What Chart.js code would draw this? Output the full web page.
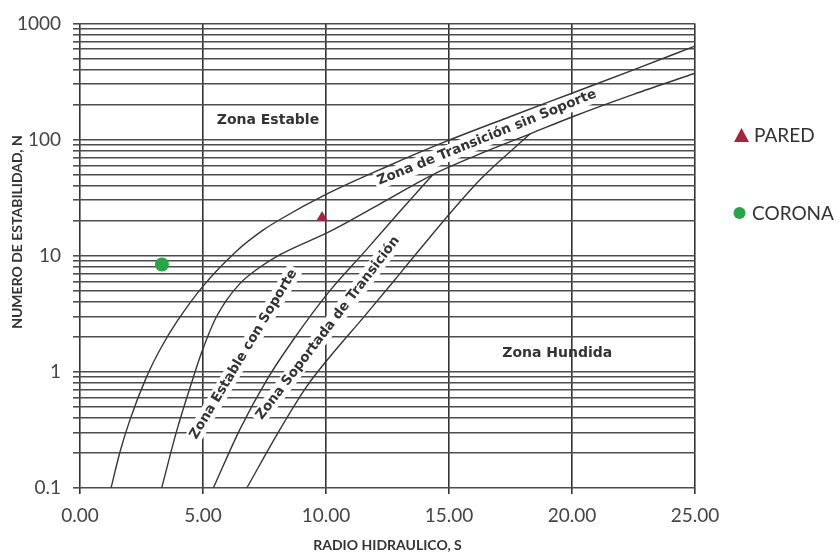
<!DOCTYPE html>
<html lang="es">
<head>
<meta charset="utf-8">
<title>Número de estabilidad vs radio hidráulico</title>
<script src="https://cdn.jsdelivr.net/npm/chart.js@4.4.1/dist/chart.umd.min.js"></script>
<style>
  html, body { margin: 0; padding: 0; background: #fff; }
  #wrap { width: 839px; height: 555px; }
</style>
</head>
<body>
<div id="wrap"><canvas id="chart" width="839" height="555"></canvas></div>
<script>
// Axis ticks
const xTickLabels = ['0.00', '5.00', '10.00', '15.00', '20.00', '25.00'];
const yDecades = [0.1, 1, 10, 100, 1000];

// Zone boundary curves (radio hidráulico S, número de estabilidad N)
const curveAx = [1.26, 1.63, 2.03, 2.71, 3.3, 3.93, 5.01, 6.37, 7.44, 8.13, 10.0, 12.5, 14.9, 17.5, 20.05, 22.5, 25];
const curveAy = [0.1, 0.206, 0.386, 0.91, 1.62, 2.69, 5.5, 11.0, 16.6, 20.5, 33.7, 58.9, 96.8, 158, 253, 398, 638];

const curveBx = [3.32, 3.93, 4.54, 4.95, 5.5, 5.96, 6.5, 7.18, 8.13, 10.16, 12.2, 14.35, 16.5, 18.3, 20.05, 22.5, 25];
const curveBy = [0.1, 0.31, 0.81, 1.48, 2.85, 4.15, 5.75, 7.6, 10.2, 16.2, 28, 50, 79, 112, 158, 245, 372];

const curveCx = [5.42, 6.5, 7.59, 8.67, 10.16, 11.6, 13.0, 14.35];
const curveCy = [0.1, 0.32, 0.85, 1.89, 5.0, 11, 24, 50];

const curveDx = [6.78, 8.13, 9.22, 10.16, 11.5, 12.8, 13.6, 16.26, 18.3];
const curveDy = [0.1, 0.32, 0.75, 1.35, 2.9, 6.2, 10, 45, 112];

// Measured points
const paredS = [9.84];
const paredN = [21.3];
const coronaS = [3.33];
const coronaN = [8.4];

// Zone names written on the chart
const zoneNames = ['Zona Estable', 'Zona Hundida', 'Zona de Transición sin Soporte', 'Zona Estable con Soporte', 'Zona Soportada de Transición'];
const zoneS = [7.64, 19.4, 16.54, 6.65, 10.08];
const zoneN = [146, 1.45, 104, 1.42, 2.38];
const zoneAngle = [0, 0, -22, -59, -52.5];

const legendNames = ['PARED', 'CORONA'];

const toPoints = (xs, ys) => xs.map((x, i) => ({ x, y: ys[i] }));

// Full log grid: 1..9 in every decade
const yGrid = [];
for (let d = 0; d < yDecades.length - 1; d++) {
  for (let m = 1; m <= 9; m++) yGrid.push(+(m * yDecades[d]).toPrecision(6));
}
yGrid.push(yDecades[yDecades.length - 1]);

const curveStyle = {
  showLine: true,
  borderColor: '#363636',
  borderWidth: 1.4,
  pointRadius: 0,
  pointHoverRadius: 0,
  cubicInterpolationMode: 'monotone',
  fill: false
};

const PARED_COLOR = '#a8233d';
const CORONA_COLOR = '#25a745';

const zoneLabels = {
  id: 'zoneLabels',
  beforeDatasetsDraw(chart) {
    const { ctx, scales: { x, y } } = chart;
    zoneNames.forEach((txt, i) => {
      const px = x.getPixelForValue(zoneS[i]);
      const py = y.getPixelForValue(zoneN[i]);
      ctx.save();
      ctx.translate(px, py);
      ctx.rotate(zoneAngle[i] * Math.PI / 180);
      const size = zoneAngle[i] === 0 ? 14 : 13.5;
      ctx.font = 'bold ' + size + 'px "DejaVu Sans"';
      const w = ctx.measureText(txt).width;
      if (zoneAngle[i] !== 0) {
        ctx.fillStyle = '#ffffff';
        ctx.fillRect(-w / 2 - 3, -size * 0.62, w + 6, size * 1.24);
      }
      ctx.fillStyle = '#333333';
      ctx.textAlign = 'center';
      ctx.textBaseline = 'middle';
      ctx.fillText(txt, 0, 0);
      ctx.restore();
    });
  },
  afterDraw(chart) {
    const { ctx } = chart;
    ctx.save();
    // y axis title
    ctx.translate(17, 232);
    ctx.rotate(-Math.PI / 2);
    ctx.font = 'bold 14px Lato';
    ctx.fillStyle = '#333333';
    ctx.textAlign = 'center';
    ctx.textBaseline = 'middle';
    ctx.fillText('NUMERO DE ESTABILIDAD, N', 0, 0);
    ctx.restore();

    // legend
    ctx.save();
    ctx.font = '19px Lato';
    ctx.fillStyle = '#333333';
    ctx.textBaseline = 'middle';
    ctx.textAlign = 'left';
    // triangle
    ctx.beginPath();
    ctx.moveTo(741.5, 128);
    ctx.lineTo(749, 142);
    ctx.lineTo(734, 142);
    ctx.closePath();
    ctx.fillStyle = PARED_COLOR;
    ctx.fill();
    ctx.fillStyle = '#333333';
    ctx.fillText(legendNames[0], 754, 136);
    // circle
    ctx.beginPath();
    ctx.arc(739.5, 213, 6, 0, Math.PI * 2);
    ctx.fillStyle = CORONA_COLOR;
    ctx.fill();
    ctx.fillStyle = '#333333';
    ctx.fillText(legendNames[1], 752, 214);
    ctx.restore();
  }
};

new Chart(document.getElementById('chart'), {
  type: 'scatter',
  data: {
    datasets: [
      {
        label: legendNames[0],
        data: toPoints(paredS, paredN),
        pointStyle: 'triangle',
        pointRadius: 6.5,
        backgroundColor: PARED_COLOR,
        borderColor: PARED_COLOR,
        borderWidth: 0
      },
      {
        label: legendNames[1],
        data: toPoints(coronaS, coronaN),
        pointStyle: 'circle',
        pointRadius: 7,
        backgroundColor: CORONA_COLOR,
        borderColor: CORONA_COLOR,
        borderWidth: 0
      },
      Object.assign({ label: 'A', data: toPoints(curveAx, curveAy) }, curveStyle),
      Object.assign({ label: 'B', data: toPoints(curveBx, curveBy) }, curveStyle),
      Object.assign({ label: 'C', data: toPoints(curveCx, curveCy) }, curveStyle),
      Object.assign({ label: 'D', data: toPoints(curveDx, curveDy) }, curveStyle)
    ]
  },
  options: {
    responsive: false,
    animation: false,
    events: [],
    layout: { padding: { left: 0, right: 144, top: 23, bottom: 0 } },
    plugins: {
      legend: { display: false },
      tooltip: { enabled: false }
    },
    scales: {
      x: {
        type: 'linear',
        min: 0,
        max: 25,
        afterFit(scale) { scale.height = 67; },
        afterBuildTicks(scale) {
          scale.ticks = xTickLabels.map(t => ({ value: parseFloat(t) }));
        },
        ticks: {
          autoSkip: false,
          maxRotation: 0,
          padding: 10,
          color: '#444444',
          font: { family: 'Lato', size: 19 },
          callback: (v, i) => xTickLabels[i]
        },
        grid: {
          color: '#333333',
          lineWidth: 1.6,
          tickLength: 6,
          drawTicks: true
        },
        border: { display: false },
        title: {
          display: true,
          text: 'RADIO HIDRAULICO, S',
          color: '#333333',
          font: { family: 'Lato', size: 14, weight: 'bold' },
          padding: { top: 0, bottom: 1 }
        }
      },
      y: {
        type: 'logarithmic',
        min: 0.1,
        max: 1000,
        afterFit(scale) { scale.width = 80; },
        afterBuildTicks(scale) {
          scale.ticks = yGrid.map(v => ({ value: v, major: yDecades.includes(v) }));
        },
        ticks: {
          autoSkip: false,
          padding: 12,
          color: '#444444',
          font: { family: 'Lato', size: 19 },
          callback: (v) => (yDecades.includes(v) ? String(v) : '')
        },
        grid: {
          color: '#4d4d4d',
          lineWidth: 1.6,
          tickLength: 7,
          drawTicks: true
        },
        border: { display: false }
      }
    }
  },
  plugins: [zoneLabels]
});
</script>
</body>
</html>
